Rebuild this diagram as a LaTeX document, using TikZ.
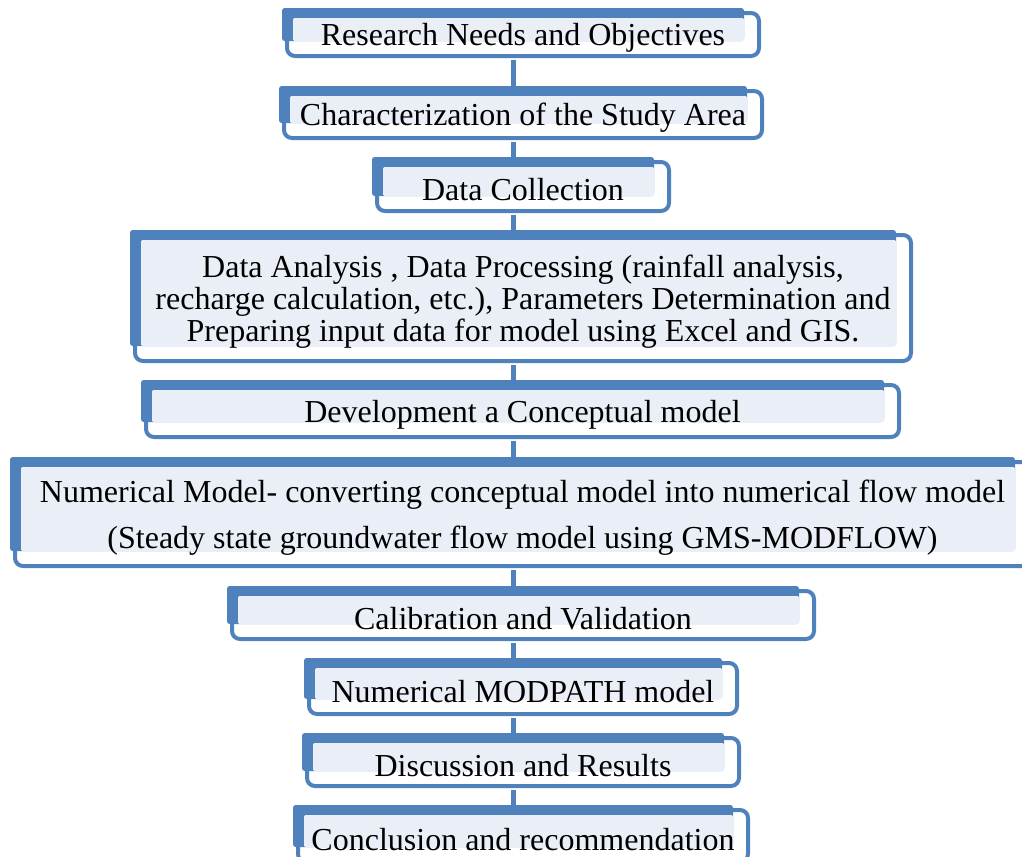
\documentclass[tikz,border=0pt]{standalone}
\usepackage{fontspec}
\setmainfont{Liberation Serif}
\usetikzlibrary{backgrounds}
\definecolor{bandblue}{HTML}{4F81BD}
\definecolor{panelblue}{HTML}{EAEFF7}

\begin{document}
\begin{tikzpicture}[
    x=0.75pt, y=-0.75pt,
    frame/.style={draw=bandblue, line width=3pt, fill=white, rounded corners=6pt},
    band/.style={fill=bandblue, rounded corners=2pt},
    panel/.style={fill=panelblue, rounded corners=1pt},
    stepbox/.style={inner sep=0pt, align=center, yshift=-2.5pt, font=\fontsize{24}{24}\selectfont},
    link/.style={draw=bandblue, line width=3.75pt}
  ]
  \useasboundingbox (0,0) rectangle (1022,857);
  \coordinate (spine) at (513,0);
  % boxes: outline, blue band, light panel, then the text
  \foreach \name/\xa/\ya/\xb/\yb/\txt in {
      needs/287/13/759/56/{Research Needs and Objectives},
      area/284/91/762/138/{Characterization of the Study Area},
      data/377/162/669/211/{Data Collection},
      analysis/135/235/911/361/{Data Analysis , Data Processing (rainfall analysis,\\recharge calculation, etc.), Parameters Determination and\\Preparing input data for model using Excel and GIS.},
      concept/146/385/899/437/{Development a Conceptual model},
      numeric/15/462/1030/566/{Numerical Model- converting conceptual model into numerical flow model\\[10.5pt](Steady state groundwater flow model using GMS-MODFLOW)},
      calib/232/591/814/639/{Calibration and Validation},
      modpath/309/663/737/714/{Numerical MODPATH model},
      results/307/738/739/786/{Discussion and Results},
      conclude/298/810/748/862/{Conclusion and recommendation}}
  {
    \draw[frame] (\xa,\ya) rectangle (\xb,\yb);
    \fill[band] (\xa-5,\ya-5) rectangle (\xb-15,\yb-15);
    \fill[panel] (\xa+6,\ya+5) rectangle (\xb-15,\yb-15);
    \node[stepbox, minimum width={(\xb-\xa)*0.75pt}, minimum height={(\yb-\ya)*0.75pt}]
      (\name) at ({(\xa+\xb)/2},{(\ya+\yb)/2}) {\txt};
  }
  % connectors behind the boxes
  \begin{scope}[on background layer]
    \foreach \a/\b in {needs/area, area/data, data/analysis, analysis/concept,
        concept/numeric, numeric/calib, calib/modpath, modpath/results, results/conclude}
      \draw[link] (\a.south -| spine) -- (\b.north -| spine);
  \end{scope}
\end{tikzpicture}
\end{document}
